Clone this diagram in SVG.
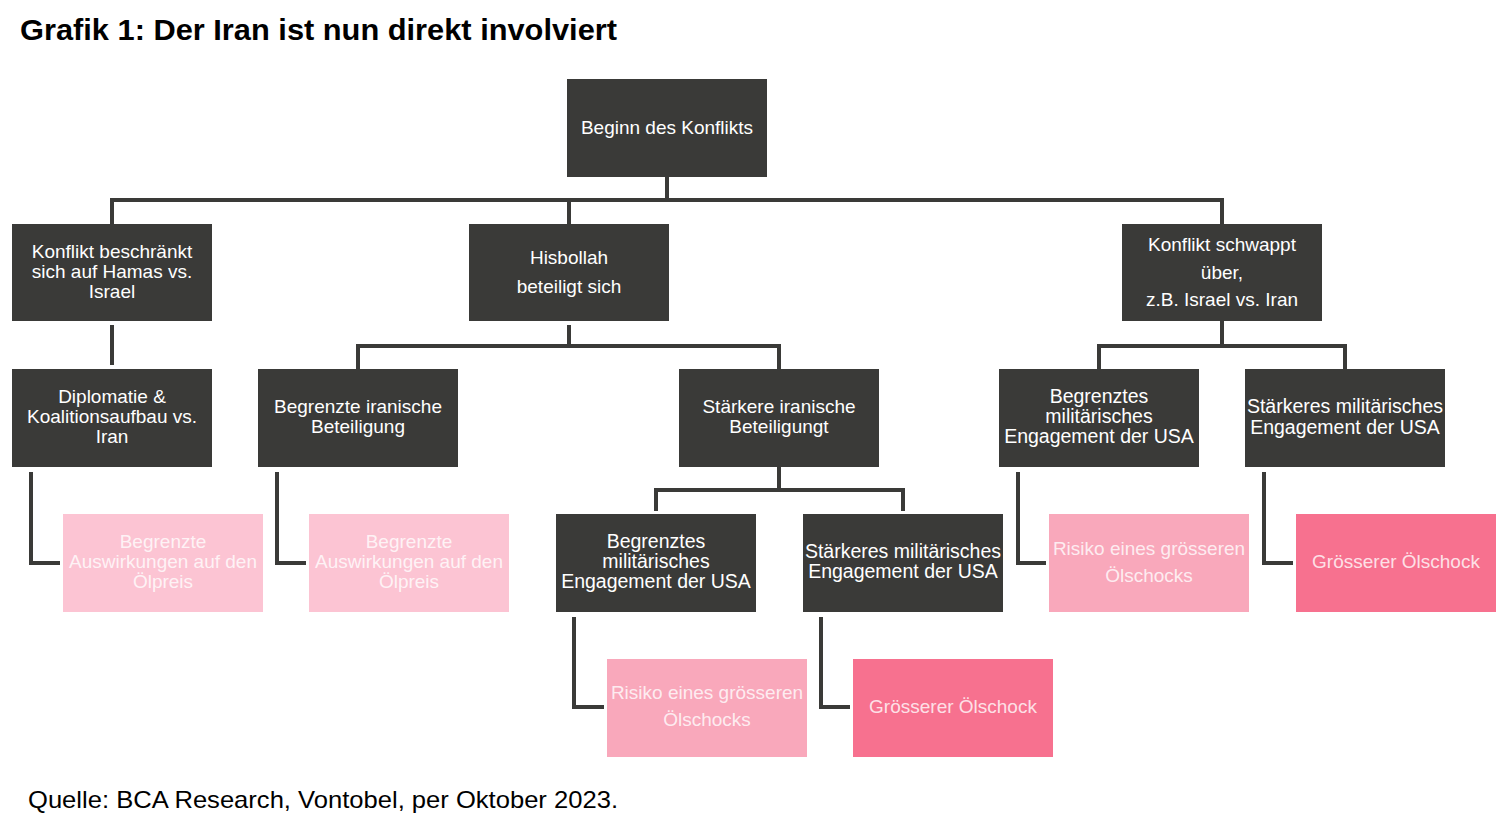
<svg xmlns="http://www.w3.org/2000/svg" width="1500" height="836" viewBox="0 0 1500 836">
<style>
.dark{fill:#3a3a38}
.p1{fill:#fcc4d3}
.p2{fill:#f9a8bb}
.p3{fill:#f7718f}
.t{font-family:"Liberation Sans",Arial,sans-serif;font-size:19px;fill:#ffffff;text-anchor:middle}
.w{font-size:19.5px}
.tp{font-family:"Liberation Sans",Arial,sans-serif;font-size:19px;fill:#ffffff;fill-opacity:0.8;text-anchor:middle}
.c{fill:none;stroke:#3a3a38;stroke-width:4;stroke-linejoin:miter}
</style>
<rect width="1500" height="836" fill="#ffffff"/>
<text x="20" y="40" font-family="'Liberation Sans',Arial,sans-serif" font-size="30" font-weight="bold" fill="#000" textLength="597" lengthAdjust="spacingAndGlyphs">Grafik 1: Der Iran ist nun direkt involviert</text>

<g id="connectors">
<path class="c" d="M667 177V200M112 224V200H1222V224M569 200V224"/>
<path class="c" d="M112 325V365"/>
<path class="c" d="M569 325V346M358 369V346H779V369"/>
<path class="c" d="M1222 321V346M1099 369V346H1345V369"/>
<path class="c" d="M779 467V490M656 511V490H903V511"/>
<path class="c" d="M31 472V563H60"/>
<path class="c" d="M277 472V563H306"/>
<path class="c" d="M1018 472V563H1046"/>
<path class="c" d="M1264 472V563H1293"/>
<path class="c" d="M574 617V707H604"/>
<path class="c" d="M821 617V707H850"/>
</g>

<g id="n-beginn"><rect class="dark" x="567" y="79" width="200" height="98"/><text class="t" x="667" y="134">Beginn des Konflikts</text></g>

<g id="n-hamas"><rect class="dark" x="12" y="224" width="200" height="97"/><text class="t" x="112" y="258">Konflikt beschränkt</text><text class="t" x="112" y="278">sich auf Hamas vs.</text><text class="t" x="112" y="298">Israel</text></g>

<g id="n-hisbollah"><rect class="dark" x="469" y="224" width="200" height="97"/><text class="t" x="569" y="264">Hisbollah</text><text class="t" x="569" y="293">beteiligt sich</text></g>

<g id="n-schwappt"><rect class="dark" x="1122" y="224" width="200" height="97"/><text class="t" x="1222" y="251">Konflikt schwappt</text><text class="t" x="1222" y="279">über,</text><text class="t" x="1222" y="306">z.B. Israel vs. Iran</text></g>

<g id="n-diplomatie"><rect class="dark" x="12" y="369" width="200" height="98"/><text class="t" x="112" y="403">Diplomatie &amp;</text><text class="t" x="112" y="423">Koalitionsaufbau vs.</text><text class="t" x="112" y="443">Iran</text></g>

<g id="n-begr-iran"><rect class="dark" x="258" y="369" width="200" height="98"/><text class="t" x="358" y="413">Begrenzte iranische</text><text class="t" x="358" y="433">Beteiligung</text></g>

<g id="n-staerk-iran"><rect class="dark" x="679" y="369" width="200" height="98"/><text class="t" x="779" y="413">Stärkere iranische</text><text class="t" x="779" y="433">Beteiligungt</text></g>

<g id="n-begr-usa-r"><rect class="dark" x="999" y="369" width="200" height="98"/><text class="t w" x="1099" y="403">Begrenztes</text><text class="t w" x="1099" y="423">militärisches</text><text class="t w" x="1099" y="443">Engagement der USA</text></g>

<g id="n-staerk-usa-r"><rect class="dark" x="1245" y="369" width="200" height="98"/><text class="t w" x="1345" y="413">Stärkeres militärisches</text><text class="t w" x="1345" y="434">Engagement der USA</text></g>

<g id="n-oel1"><rect class="p1" x="63" y="514" width="200" height="98"/><text class="tp" x="163" y="548">Begrenzte</text><text class="tp" x="163" y="568">Auswirkungen  auf den</text><text class="tp" x="163" y="588">Ölpreis</text></g>

<g id="n-oel2"><rect class="p1" x="309" y="514" width="200" height="98"/><text class="tp" x="409" y="548">Begrenzte</text><text class="tp" x="409" y="568">Auswirkungen  auf den</text><text class="tp" x="409" y="588">Ölpreis</text></g>

<g id="n-begr-usa-m"><rect class="dark" x="556" y="514" width="200" height="98"/><text class="t w" x="656" y="548">Begrenztes</text><text class="t w" x="656" y="568">militärisches</text><text class="t w" x="656" y="588">Engagement der USA</text></g>

<g id="n-staerk-usa-m"><rect class="dark" x="803" y="514" width="200" height="98"/><text class="t w" x="903" y="558">Stärkeres militärisches</text><text class="t w" x="903" y="578">Engagement der USA</text></g>

<g id="n-risiko-r"><rect class="p2" x="1049" y="514" width="200" height="98"/><text class="tp w" x="1149" y="555">Risiko eines grösseren</text><text class="tp w" x="1149" y="582">Ölschocks</text></g>

<g id="n-schock-r"><rect class="p3" x="1296" y="514" width="200" height="98"/><text class="tp w" x="1396" y="568">Grösserer Ölschock</text></g>

<g id="n-risiko-m"><rect class="p2" x="607" y="659" width="200" height="98"/><text class="tp w" x="707" y="699">Risiko eines grösseren</text><text class="tp w" x="707" y="726">Ölschocks</text></g>

<g id="n-schock-m"><rect class="p3" x="853" y="659" width="200" height="98"/><text class="tp w" x="953" y="713">Grösserer Ölschock</text></g>

<text x="28" y="808" font-family="'Liberation Sans',Arial,sans-serif" font-size="24" fill="#000" textLength="590" lengthAdjust="spacingAndGlyphs">Quelle: BCA Research, Vontobel, per Oktober 2023.</text>
</svg>
